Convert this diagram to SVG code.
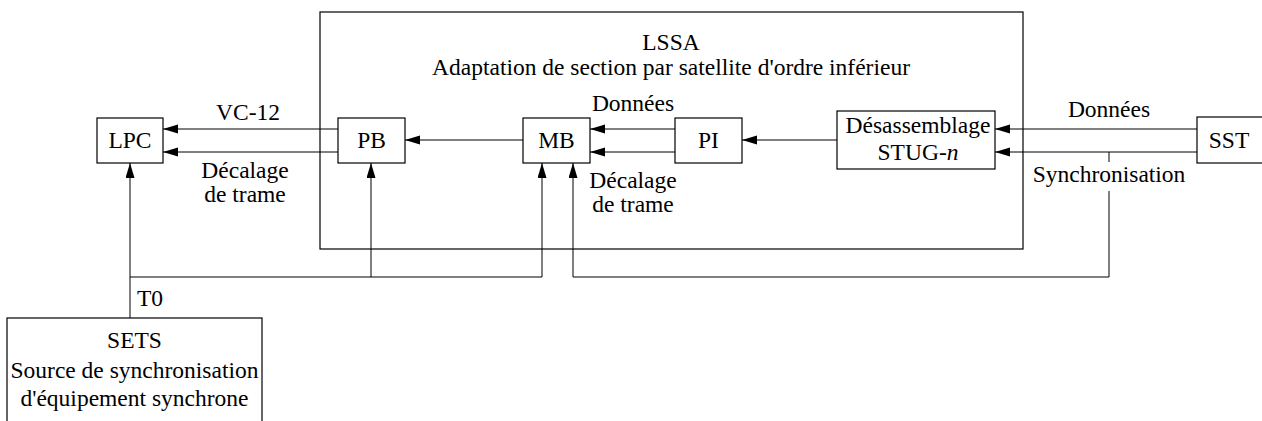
<svg xmlns="http://www.w3.org/2000/svg" width="1262" height="421" viewBox="0 0 1262 421">
<style>
.box{fill:#fff;stroke:#000;stroke-width:1.2}
.ln{fill:none;stroke:#000;stroke-width:1}
text{font-family:"Liberation Serif","Times New Roman",serif;font-size:23.5px;fill:#000;text-anchor:middle}
</style>
<defs>
<marker id="ah" markerWidth="16" markerHeight="10" refX="15" refY="4.5" orient="auto" markerUnits="userSpaceOnUse">
<path d="M0,0 L15,4.5 L0,9 Z" fill="#000"/>
</marker>
</defs>
<rect width="1262" height="421" fill="#fff"/>
<g id="LSSA">
<rect class="box" x="320" y="12" width="703" height="237" fill="none"/>
<text x="671" y="50">LSSA</text>
<text x="671" y="75">Adaptation de section par satellite d'ordre inférieur</text>
</g>
<g id="connectors">
<line class="ln" x1="338" y1="129" x2="163" y2="129" marker-end="url(#ah)"/>
<line class="ln" x1="338" y1="152" x2="163" y2="152" marker-end="url(#ah)"/>
<line class="ln" x1="523" y1="140" x2="405" y2="140" marker-end="url(#ah)"/>
<line class="ln" x1="675" y1="129" x2="590" y2="129" marker-end="url(#ah)"/>
<line class="ln" x1="675" y1="152" x2="590" y2="152" marker-end="url(#ah)"/>
<line class="ln" x1="837" y1="140" x2="742" y2="140" marker-end="url(#ah)"/>
<line class="ln" x1="1197" y1="129" x2="995" y2="129" marker-end="url(#ah)"/>
<line class="ln" x1="1197" y1="152" x2="995" y2="152" marker-end="url(#ah)"/>
<line class="ln" x1="1109" y1="152" x2="1109" y2="162"/>
<polyline class="ln" points="1109,191 1109,277 573,277 573,163" marker-end="url(#ah)"/>
<line class="ln" x1="130" y1="318" x2="130" y2="163" marker-end="url(#ah)"/>
<polyline class="ln" points="130,277 542,277 542,163" marker-end="url(#ah)"/>
<line class="ln" x1="371" y1="277" x2="371" y2="163" marker-end="url(#ah)"/>
<text x="248" y="120">VC-12</text>
<text x="245" y="178">Décalage</text>
<text x="245" y="202">de trame</text>
<text x="633" y="111">Données</text>
<text x="633" y="188">Décalage</text>
<text x="633" y="212">de trame</text>
<text x="1109" y="117">Données</text>
<text x="1109" y="182">Synchronisation</text>
<text x="137" y="306" style="text-anchor:start">T0</text>
</g>
<g id="LPC">
<rect class="box" x="97" y="118" width="66" height="45"/>
<text x="130" y="148">LPC</text>
</g>
<g id="PB">
<rect class="box" x="338" y="118" width="67" height="45"/>
<text x="371.5" y="148">PB</text>
</g>
<g id="MB">
<rect class="box" x="523" y="118" width="67" height="45"/>
<text x="556.5" y="148">MB</text>
</g>
<g id="PI">
<rect class="box" x="675" y="118" width="67" height="45"/>
<text x="708.5" y="148">PI</text>
</g>
<g id="Desassemblage">
<rect class="box" x="837" y="111" width="158" height="58"/>
<text x="918" y="133">Désassemblage</text>
<text x="918" y="160">STUG-<tspan font-style="italic">n</tspan></text>
</g>
<g id="SST">
<rect class="box" x="1197" y="117" width="80" height="46"/>
<text x="1229" y="148">SST</text>
</g>
<g id="SETS">
<rect class="box" x="7" y="318" width="255" height="120"/>
<text x="134.5" y="348">SETS</text>
<text x="134.5" y="378">Source de synchronisation</text>
<text x="134.5" y="406">d'équipement synchrone</text>
</g>
</svg>
